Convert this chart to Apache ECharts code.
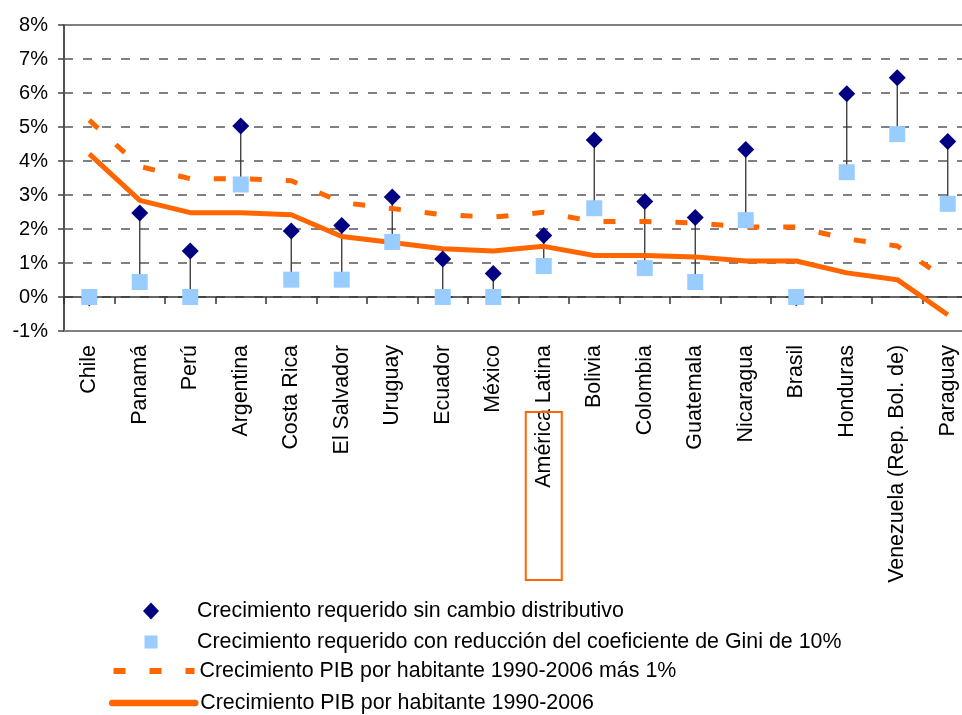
<!DOCTYPE html>
<html>
<head>
<meta charset="utf-8">
<script src="https://cdn.jsdelivr.net/npm/echarts@6/dist/echarts.min.js"></script>
<style>
html, body { margin: 0; padding: 0; background: #fff; }
#chart { width: 962px; height: 715px; }
</style>
</head>
<body>
<div id="chart"></div>
<script>
const categories = ['Chile', 'Panamá', 'Perú', 'Argentina', 'Costa Rica', 'El Salvador', 'Uruguay', 'Ecuador', 'México', 'América Latina', 'Bolivia', 'Colombia', 'Guatemala', 'Nicaragua', 'Brasil', 'Honduras', 'Venezuela (Rep. Bol. de)', 'Paraguay'];
const sinCambio = [-0.02, 2.47, 1.35, 5.03, 1.94, 2.10, 2.94, 1.12, 0.69, 1.81, 4.62, 2.81, 2.34, 4.34, -0.02, 5.98, 6.45, 4.57];
const conGini = [0, 0.44, 0, 3.31, 0.51, 0.51, 1.62, 0, 0, 0.91, 2.61, 0.85, 0.44, 2.26, 0, 3.67, 4.79, 2.74];
const pibMas1 = [5.20, 3.84, 3.48, 3.48, 3.42, 2.78, 2.60, 2.42, 2.35, 2.49, 2.22, 2.22, 2.18, 2.06, 2.06, 1.71, 1.50, 0.50];
const pib = [4.21, 2.84, 2.48, 2.48, 2.42, 1.78, 1.60, 1.42, 1.35, 1.49, 1.22, 1.22, 1.18, 1.06, 1.06, 0.71, 0.51, -0.52];
const yTicks = { min: -1, max: 8, interval: 1 };

const names = [
  'Crecimiento requerido sin cambio distributivo',
  'Crecimiento requerido con reducción del coeficiente de Gini de 10%',
  'Crecimiento PIB por habitante 1990-2006 más 1%',
  'Crecimiento PIB por habitante 1990-2006'
];

const FONT = '"Liberation Sans", Arial, sans-serif';
const ORANGE = '#FF6600';
const NAVY = '#000080';
const LIGHT = '#99CCFF';
const DASH = [12, 24];
const LABEL_SIZE = 21.4;

const chart = echarts.init(document.getElementById('chart'), null, { renderer: 'canvas' });

// text x = left + w + 5 + padLeft ; row center ~ top + 10
function legendBox(item, left, centerY, w, h, padLeft) {
  return {
    orient: 'vertical',
    left: left, top: centerY - 10,
    padding: 0,
    itemWidth: w, itemHeight: h, itemGap: 0,
    selectedMode: false,
    textStyle: { fontFamily: FONT, fontSize: LABEL_SIZE, color: '#000', padding: [0, 0, 0, padLeft] },
    data: [item]
  };
}

const option = {
  animation: false,
  backgroundColor: '#fff',
  textStyle: { fontFamily: FONT },
  grid: {
    left: 64, top: 25, right: -11, bottom: 384,
    containLabel: false, outerBoundsMode: 'none',
    show: true, borderColor: '#808080', borderWidth: 2, backgroundColor: 'transparent'
  },
  legend: [
    legendBox({ name: names[0], icon: 'diamond', itemStyle: { color: NAVY, opacity: 1 } }, 143, 610.5, 16, 17, 33),
    legendBox({ name: names[1], icon: 'rect', itemStyle: { color: LIGHT, opacity: 1 } }, 144.5, 641.5, 13, 13, 34.5),
    legendBox({ name: names[2], itemStyle: { color: 'rgba(0,0,0,0)', borderWidth: 0, opacity: 0 }, lineStyle: { width: 6, type: DASH, cap: 'butt' } }, 110.5, 670.5, 81, 14, 0),
    legendBox({ name: names[3], itemStyle: { color: 'rgba(0,0,0,0)', borderWidth: 0, opacity: 0 }, lineStyle: { width: 6.5, cap: 'round' } }, 109, 702.5, 83, 14, 0)
  ],
  xAxis: [
    {
      type: 'category', data: categories, position: 'bottom',
      axisLine: { show: true, onZero: false, lineStyle: { color: '#808080', width: 2 } },
      axisTick: { show: false },
      axisLabel: { rotate: 90, fontSize: LABEL_SIZE, color: '#000', margin: 14, fontFamily: FONT, interval: 0 },
      splitLine: { show: false }
    },
    {
      type: 'category', data: categories, position: 'bottom',
      axisLine: { show: true, onZero: true, lineStyle: { color: '#333', width: 1.5 } },
      axisTick: { show: true, interval: 0, length: 7, lineStyle: { color: '#333', width: 1.5 } },
      axisLabel: { show: false, interval: 0 },
      splitLine: { show: false }
    }
  ],
  yAxis: {
    type: 'value', min: yTicks.min, max: yTicks.max, interval: yTicks.interval,
    axisLine: { show: true, lineStyle: { color: '#444', width: 1.5 } },
    axisTick: { show: true, length: 6, lineStyle: { color: '#444', width: 1.5 } },
    axisLabel: { formatter: '{value}%', fontSize: 20, color: '#000', margin: 16, fontFamily: FONT },
    splitLine: { show: true, lineStyle: { color: '#808080', width: 1.8, type: [9, 10] } }
  },
  series: [
    {
      type: 'custom', name: 'drop', xAxisIndex: 0,
      data: categories.map((c, i) => [i, sinCambio[i], conGini[i]]),
      encode: { x: 0, y: [1, 2] },
      renderItem: function (params, api) {
        const p1 = api.coord([api.value(0), api.value(1)]);
        const p2 = api.coord([api.value(0), api.value(2)]);
        return {
          type: 'line',
          shape: { x1: p1[0], y1: p1[1], x2: p2[0], y2: p2[1] },
          style: { stroke: '#333', lineWidth: 1.3 }
        };
      },
      z: 1
    },
    {
      type: 'line', name: names[3], data: pib, xAxisIndex: 0,
      symbol: 'none', smooth: false,
      lineStyle: { color: ORANGE, width: 5 },
      itemStyle: { color: ORANGE },
      z: 2
    },
    {
      type: 'line', name: names[2], data: pibMas1, xAxisIndex: 0,
      symbol: 'none', smooth: false,
      lineStyle: { color: ORANGE, width: 5, type: DASH, cap: 'butt' },
      itemStyle: { color: ORANGE },
      z: 2
    },
    {
      type: 'scatter', name: names[0], data: sinCambio, xAxisIndex: 0,
      symbol: 'diamond', symbolSize: 17,
      itemStyle: { color: NAVY, opacity: 1 },
      z: 3
    },
    {
      type: 'scatter', name: names[1], data: conGini, xAxisIndex: 0,
      symbol: 'rect', symbolSize: 16,
      itemStyle: { color: LIGHT, opacity: 1 },
      z: 4
    }
  ]
};

chart.setOption(option);

const cx = chart.convertToPixel({ xAxisIndex: 0 }, 'América Latina');
chart.setOption({
  graphic: [{
    type: 'rect',
    shape: { x: cx - 18, y: 412, width: 36, height: 168 },
    style: { fill: 'none', stroke: ORANGE, lineWidth: 2 },
    z: 100
  }]
});
</script>
</body>
</html>
